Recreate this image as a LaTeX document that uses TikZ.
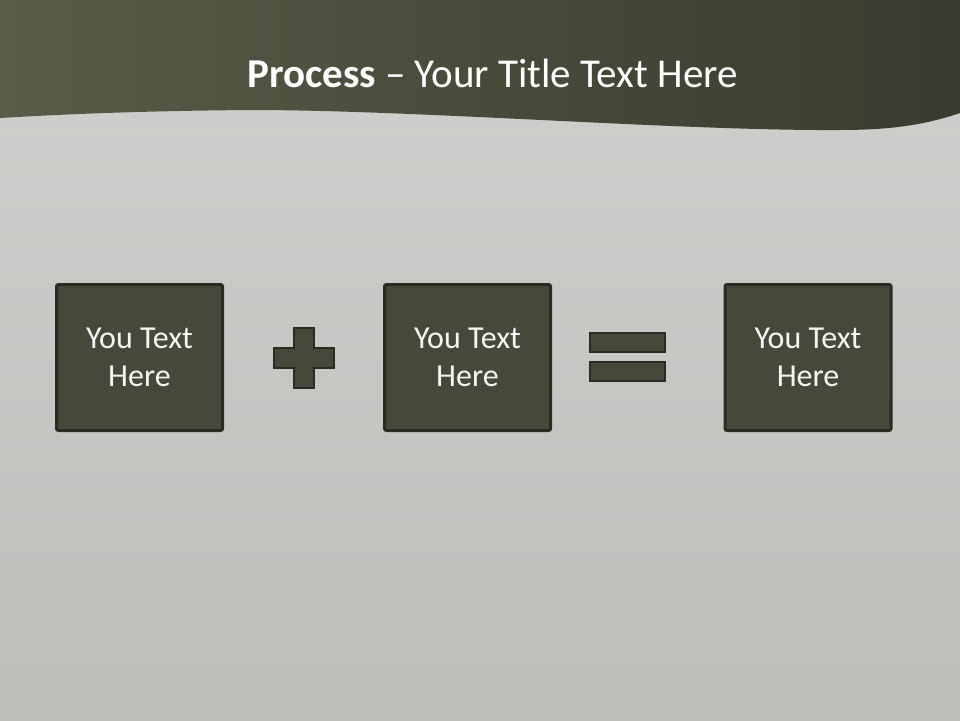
\documentclass[tikz,border=0pt]{standalone}
\usepackage{fontspec}
\setmainfont{Carlito}
\usepackage{tikz}
\definecolor{chalklight}{HTML}{D0D0CE}
\definecolor{chalkmid}{HTML}{CBCBC9}
\definecolor{chalkdark}{HTML}{BDBDBA}
\definecolor{bandlight}{HTML}{5B5B49}
\definecolor{banddark}{HTML}{3A3A2E}
\definecolor{slate}{HTML}{48483A}
\definecolor{slateedge}{HTML}{2B2B24}
\definecolor{chalkwhite}{HTML}{F4F4F2}

\begin{document}
\begin{tikzpicture}[x=1pt, y=-1pt, node distance=328pt,
    every node/.style={font=\fontsize{32}{38.6}\selectfont, text=chalkwhite},
    textbox/.style={draw=slateedge, line width=3pt, fill=slate, rounded corners=2pt, minimum width=166pt, minimum height=146pt, align=center},
    symbolpart/.style={draw=slateedge, line width=2.5pt, fill=slate}]
      \useasboundingbox (0,0) rectangle (960,720);
      % backdrop and title band
      \shade[top color=chalklight, middle color=chalkmid, bottom color=chalkdark] (0,0) rectangle (960,720);
      \shade[left color=bandlight, right color=banddark] (0,0) -- (960,0) -- (960,113)
        .. controls (925,125) and (890,130) .. (840,130)
        .. controls (680,131) and (420,110) .. (250,110)
        .. controls (130,111) and (50,115) .. (0,118) -- cycle;
      \node[font=\fontsize{41}{49}\selectfont, text=white, anchor=base] (title) at (492.5,87.3) {\textbf{Process} – Your Title Text Here};
      % the three boxes
      \node[textbox] (first) at (139.5,357.5) {You Text\\Here};
      \node[textbox, right of=first] (second) {You Text\\Here};
      \node[textbox, right of=second, xshift=12.5pt] (result) {You Text\\Here};
      % plus and equals signs
      \draw[symbolpart] (294,328) -- (314,328) -- (314,348) -- (334,348) -- (334,368) -- (314,368)
        -- (314,388) -- (294,388) -- (294,368) -- (274,368) -- (274,348) -- (294,348) -- cycle;
      \draw[symbolpart] (590,333) rectangle (665,352);
      \draw[symbolpart] (590,362) rectangle (665,381);
    \end{tikzpicture}
\end{document}
